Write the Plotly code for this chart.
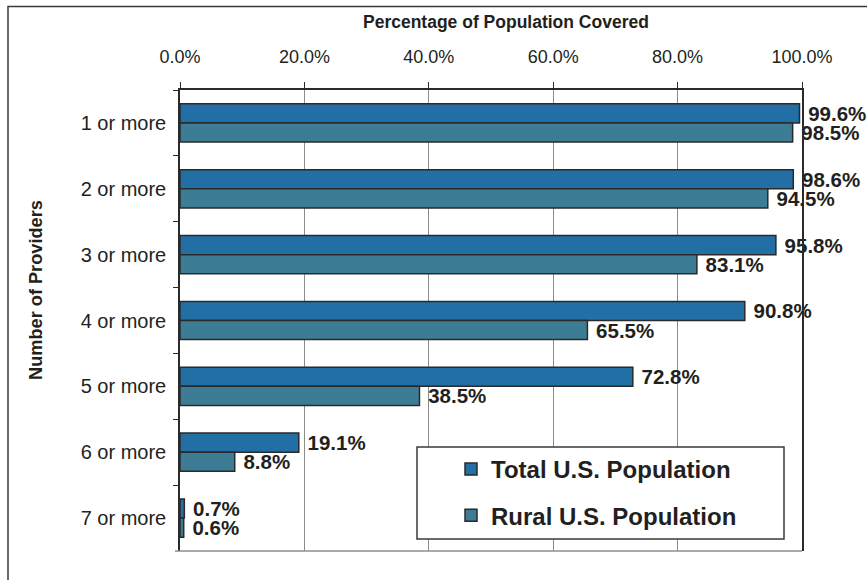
import plotly.graph_objects as go

categories = ["1 or more", "2 or more", "3 or more", "4 or more", "5 or more", "6 or more", "7 or more"]
total_us = [99.6, 98.6, 95.8, 90.8, 72.8, 19.1, 0.7]
rural_us = [98.5, 94.5, 83.1, 65.5, 38.5, 8.8, 0.6]
x_tickvals = [0, 20, 40, 60, 80, 100]
x_ticktext = ["0.0%", "20.0%", "40.0%", "60.0%", "80.0%", "100.0%"]

FONT = "Arial, 'Liberation Sans', Helvetica, sans-serif"
TXT = "#231f20"
W, H = 867, 580
L, R, T, B = 180, 65, 90, 29
PW, PH = W - L - R, H - T - B


def px(x):
    return (x - L) / PW


def py(y):
    return (H - B - y) / PH


fig = go.Figure()
fig.add_trace(go.Bar(
    y=categories, x=total_us, orientation="h", name="Total U.S. Population",
    marker=dict(color="#226fa6", line=dict(color="#2a2a2a", width=1.5)),
    texttemplate="\u00a0%{x:.1f}%", textposition="outside", cliponaxis=False,
    constraintext="none", legendgroup="a",
    textfont=dict(family=FONT, size=20.5, color=TXT, weight="bold"),
))
fig.add_trace(go.Bar(
    y=categories, x=rural_us, orientation="h", name="Rural U.S. Population",
    marker=dict(color="#3c7c94", line=dict(color="#2a2a2a", width=1.5)),
    texttemplate="\u00a0%{x:.1f}%", textposition="outside", cliponaxis=False,
    constraintext="none", legendgroup="b",
    textfont=dict(family=FONT, size=20.5, color=TXT, weight="bold"),
))

fig.update_layout(
    width=W, height=H, margin=dict(l=L, r=R, t=T, b=B, autoexpand=False),
    paper_bgcolor="white", plot_bgcolor="white",
    barmode="group", bargap=0.42, bargroupgap=0,
    font=dict(family=FONT, color=TXT, size=18),
    xaxis=dict(
        side="top", range=[0, 100], tickvals=x_tickvals, ticktext=x_ticktext,
        showgrid=True, gridcolor="#8c8c8c", gridwidth=1.2, zeroline=False,
        showline=True, linecolor="#2a2a2a", linewidth=1.5,
        ticks="outside", ticklen=6, tickcolor="#2a2a2a", ticklabelstandoff=12,
        tickfont=dict(size=18, color=TXT),
    ),
    yaxis=dict(
        autorange="reversed", showgrid=False, zeroline=False,
        showline=True, mirror=True, linecolor="#2a2a2a", linewidth=1.5,
        ticks="outside", tickson="boundaries", ticklen=5, tickcolor="#2a2a2a",
        ticklabelstandoff=8, tickfont=dict(size=20, color=TXT),
    ),
    legend=dict(
        x=px(451), y=py(447), xanchor="left", yanchor="top",
        bgcolor="rgba(0,0,0,0)", borderwidth=0, traceorder="grouped",
        tracegroupgap=12, font=dict(family=FONT, size=24, color=TXT, weight="bold"),
    ),
    shapes=[
        # legend box
        dict(type="rect", xref="paper", yref="paper", x0=px(417), x1=px(784),
             y0=py(539), y1=py(447), fillcolor="white",
             line=dict(color="#3a3a3a", width=1.5), layer="above"),
        # bottom gray axis line
        dict(type="line", xref="paper", yref="paper", x0=px(175), x1=1, y0=0, y1=0,
             line=dict(color="#8c8c8c", width=1.5), layer="above"),
        # outer chart border (left and top)
        dict(type="path", xref="paper", yref="paper",
             path=f"M {px(8)},{py(620)} L {px(8)},{py(6.5)} L {px(900)},{py(6.5)}",
             line=dict(color="#3a3a3a", width=1.5), layer="above"),
    ],
    annotations=[
        dict(text="Percentage of Population Covered", xref="paper", yref="paper",
             x=px(506), y=py(22), showarrow=False, xanchor="center", yanchor="middle",
             font=dict(family=FONT, size=17.5, color=TXT, weight="bold")),
        dict(text="Number of Providers", xref="paper", yref="paper",
             x=px(36), y=py(290), showarrow=False, textangle=-90,
             xanchor="center", yanchor="middle",
             font=dict(family=FONT, size=18.2, color=TXT, weight="bold")),
    ],
)

fig.write_html("out.html", config={"displayModeBar": False},
               post_script="document.body.style.margin='0px';")
